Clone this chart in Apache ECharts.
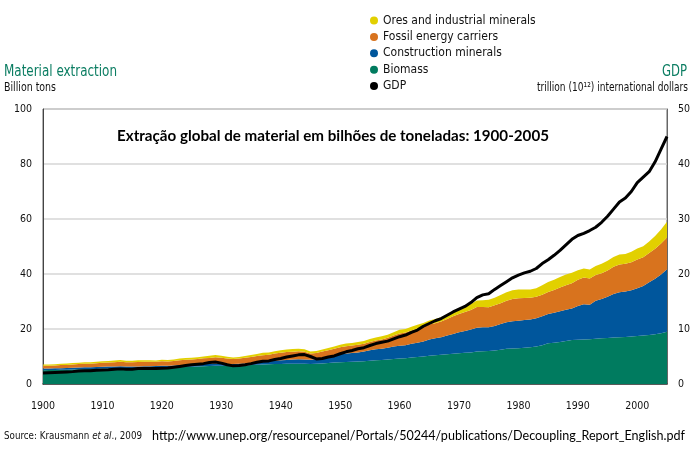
<!DOCTYPE html>
<html><head><meta charset="utf-8">
<script src="https://cdn.jsdelivr.net/npm/echarts@6/dist/echarts.min.js"></script>
<style>html,body{margin:0;padding:0;background:#fff}#c{width:697px;height:456px}</style>
</head><body><div id="c"></div>
<script>
const startYear = 1900, endYear = 2005;
const years = [];
for (let y = startYear; y <= endYear; y++) years.push(String(y));
const xTickLabels = ['1900','1910','1920','1930','1940','1950','1960','1970','1980','1990','2000'];
const leftTicks = [0,20,40,60,80,100];
const rightTicks = [0,10,20,30,40,50];

// Billion tons, 1900..2005
const biomass = [
5.0,5.05,5.1,5.15,5.2,5.3,5.35,5.4,5.45,5.5,
5.6,5.65,5.7,5.8,5.75,5.8,5.8,5.85,5.9,5.95,
6.0,6.05,6.1,6.2,6.25,6.3,6.4,6.45,6.55,6.6,
6.6,6.55,6.6,6.65,6.75,6.9,7.0,7.1,7.2,7.3,
7.3,7.35,7.4,7.4,7.35,7.3,7.4,7.5,7.65,7.8,
7.9,8.0,8.1,8.2,8.3,8.5,8.6,8.7,8.9,9.1,
9.3,9.4,9.6,9.8,10.0,10.3,10.5,10.6,10.8,11.0,
11.2,11.4,11.5,11.8,11.9,12.0,12.2,12.5,12.8,12.9,
13.0,13.2,13.4,13.6,14.1,14.8,15.0,15.3,15.6,16.0,
16.1,16.2,16.3,16.5,16.6,16.7,16.9,17.0,17.1,17.3,
17.5,17.6,17.8,18.1,18.5,19.0];
const construction = [
0.6,0.6,0.6,0.62,0.62,0.63,0.65,0.65,0.63,0.65,
0.66,0.67,0.68,0.7,0.65,0.6,0.6,0.58,0.58,0.6,
0.62,0.62,0.65,0.68,0.7,0.72,0.75,0.78,0.8,0.82,
0.78,0.7,0.65,0.68,0.72,0.78,0.85,0.95,1.05,1.15,
1.3,1.4,1.5,1.6,1.55,1.5,1.6,1.9,2.2,2.6,
3.0,3.1,3.2,3.3,3.5,3.8,4.0,4.1,4.3,4.5,
4.6,4.7,5.0,5.2,5.5,5.9,6.1,6.4,6.8,7.2,
7.6,7.9,8.3,8.7,8.7,8.6,8.9,9.3,9.7,9.9,
10.0,10.1,10.1,10.3,10.5,10.7,10.9,11.2,11.4,11.5,
12.3,12.8,12.5,13.8,14.3,15.0,15.8,16.4,16.5,16.8,
17.3,18.0,19.2,20.2,21.3,22.7];
const fossil = [
1.0,1.02,1.05,1.1,1.12,1.2,1.25,1.35,1.3,1.4,
1.45,1.5,1.55,1.6,1.5,1.5,1.6,1.65,1.6,1.5,
1.65,1.55,1.65,1.8,1.85,1.9,1.95,2.1,2.15,2.3,
2.2,2.0,1.85,1.95,2.05,2.15,2.3,2.45,2.4,2.6,
2.75,2.85,2.85,2.9,2.8,2.3,2.25,2.4,2.45,2.4,
2.5,2.65,2.7,2.75,2.8,3.0,3.2,3.4,3.6,4.0,
4.5,4.6,4.9,5.2,5.3,5.4,5.5,5.7,6.0,6.4,
6.7,6.9,7.1,7.5,7.4,7.3,7.5,7.6,7.8,8.1,
8.2,8.0,7.9,7.8,7.9,8.0,8.3,8.6,8.9,9.1,
9.5,9.7,9.6,9.3,9.4,9.6,9.9,10.1,10.1,10.2,
10.5,10.5,10.6,10.9,11.3,11.6];
const ores = [
0.45,0.45,0.47,0.48,0.48,0.5,0.52,0.54,0.5,0.52,
0.55,0.56,0.58,0.6,0.55,0.55,0.6,0.6,0.58,0.52,
0.55,0.5,0.55,0.6,0.62,0.65,0.67,0.7,0.75,0.8,
0.72,0.62,0.55,0.58,0.62,0.68,0.75,0.82,0.8,0.88,
0.95,0.98,0.98,0.95,0.9,0.75,0.72,0.78,0.82,0.85,
0.9,0.95,0.95,1.0,1.0,1.05,1.1,1.15,1.15,1.2,
1.3,1.3,1.3,1.35,1.4,1.45,1.5,1.55,1.7,1.9,
2.1,2.1,2.2,2.4,2.5,2.7,2.8,3.0,3.1,3.2,
3.2,3.1,3.0,3.1,3.4,3.6,3.7,3.8,3.9,3.9,
3.5,3.3,3.2,3.3,3.4,3.5,3.6,3.6,3.6,3.8,
4.0,4.0,4.2,4.6,5.1,5.7];
// GDP, trillion international dollars
const gdp = [
2.0,2.05,2.1,2.15,2.2,2.25,2.35,2.4,2.4,2.5,
2.55,2.6,2.7,2.75,2.7,2.7,2.8,2.8,2.8,2.8,
2.85,2.9,3.05,3.2,3.35,3.5,3.6,3.7,3.9,4.0,
3.8,3.5,3.3,3.35,3.5,3.7,3.95,4.15,4.2,4.45,
4.65,4.9,5.1,5.3,5.35,5.0,4.55,4.65,4.9,5.1,
5.5,5.85,6.1,6.4,6.6,7.0,7.35,7.6,7.8,8.2,
8.6,8.9,9.4,9.8,10.5,11.0,11.5,11.9,12.5,13.1,
13.6,14.1,14.8,15.7,16.2,16.4,17.2,17.9,18.6,19.3,
19.8,20.2,20.5,21.0,21.9,22.6,23.4,24.3,25.3,26.3,
27.0,27.4,27.9,28.5,29.4,30.5,31.8,33.1,33.8,35.0,
36.6,37.6,38.6,40.4,42.7,45.0];

const seriesNames = ['Ores and industrial minerals','Fossil energy carriers','Construction minerals','Biomass','GDP'];
const colors = {bio:'#007b5f', con:'#00569c', fos:'#d8731e', ore:'#e2d000', gdp:'#000000'};
const COND = '"DejaVu Sans Condensed", Roboto, sans-serif';
const green = '#0b7d62';

// horizontal squeeze so a text matches a target width (the original uses a condensed face)
const mctx = document.createElement('canvas').getContext('2d');
function squeeze(text, font, target) { mctx.font = font; return target / mctx.measureText(text).width; }
function ftext(text, font, x, y, target, fill, align) {
  return {type:'text', x, y, scaleX:squeeze(text, font, target), silent:true,
    style:{text, font, fill, align:align||'left', verticalAlign:'middle'}};
}

function area(name, data, color) {
  return {name, type:'line', stack:'total', data, symbol:'none', smooth:false,
    lineStyle:{width:0, color}, itemStyle:{color}, areaStyle:{color, opacity:1}, z:2};
}

const chart = echarts.init(document.getElementById('c'), null, {renderer:'canvas'});
const fMat = '16px '+COND, fSub = '12.5px '+COND, fTril = '12px '+COND;
const fTitle = 'bold 15.2px Lato, "Open Sans", sans-serif';
const fSrc = '11px '+COND, fUrl = '13px Lato, sans-serif';
chart.setOption({
  animation:false,
  backgroundColor:'#fff',
  grid:{left:43, right:30, top:109, bottom:72, show:true, borderColor:'#666', borderWidth:1, backgroundColor:'transparent'},
  legend:{
    orient:'vertical', left:365, top:9.5, itemWidth:8, itemHeight:8, itemGap:4.4,
    icon:'circle', data:seriesNames, selectedMode:false,
    textStyle:{fontFamily:COND, fontSize:12, lineHeight:12, color:'#111'}
  },
  xAxis:{type:'category', data:years, boundaryGap:false,
     axisLine:{show:true, lineStyle:{color:'#333', width:1.5}}, axisTick:{show:false},
     axisLabel:{show:true, margin:17, fontFamily:COND, fontSize:10.5, color:'#111',
       interval:(i, v) => xTickLabels.indexOf(String(v)) >= 0},
     splitLine:{show:false}},
  yAxis:[
    {type:'value', min:leftTicks[0], max:leftTicks[leftTicks.length-1], interval:20, position:'left',
     axisLine:{show:true, lineStyle:{color:'#444'}}, axisTick:{show:false},
     axisLabel:{margin:11, fontFamily:COND, fontSize:10.5, color:'#111'},
     splitLine:{show:true, lineStyle:{color:'#d6d6d6', width:1.5}}},
    {type:'value', min:rightTicks[0], max:rightTicks[rightTicks.length-1], interval:10, position:'right',
     axisLine:{show:true, lineStyle:{color:'#666'}}, axisTick:{show:false},
     axisLabel:{margin:11, fontFamily:COND, fontSize:10.5, color:'#111'},
     splitLine:{show:false}}
  ],
  series:[
    area('Biomass', biomass, colors.bio),
    area('Construction minerals', construction, colors.con),
    area('Fossil energy carriers', fossil, colors.fos),
    area('Ores and industrial minerals', ores, colors.ore),
    {name:'GDP', type:'line', yAxisIndex:1, data:gdp, symbol:'none', z:5,
     lineStyle:{color:colors.gdp, width:3}, itemStyle:{color:colors.gdp}}
  ],
  graphic:[
    ftext('Material extraction', fMat, 4, 71.5, 113, green),
    ftext('Billion tons', fSub, 4, 87.5, 52, '#111'),
    ftext('GDP', fMat, 687, 71.5, 25, green, 'right'),
    ftext('trillion (10\u00b9\u00b2) international dollars', fTril, 688, 87.5, 151, '#111', 'right'),
    ftext('Extração global de material em bilhões de toneladas: 1900-2005', fTitle, 117, 136, 432, '#000'),
    {type:'text', x:4, y:436.5, scaleX:squeeze('Source: Krausmann et al., 2009', fSrc, 138), silent:true,
     style:{text:'{a|Source: Krausmann }{b|et al}{a|., 2009}', verticalAlign:'middle',
       rich:{a:{fontFamily:COND, fontSize:11, fill:'#111'}, b:{fontFamily:COND, fontSize:11, fontStyle:'italic', fill:'#111'}}}},
    ftext('http://www.unep.org/resourcepanel/Portals/50244/publications/Decoupling_Report_English.pdf', fUrl, 152, 436, 533, '#000')
  ]
});
</script></body></html>
